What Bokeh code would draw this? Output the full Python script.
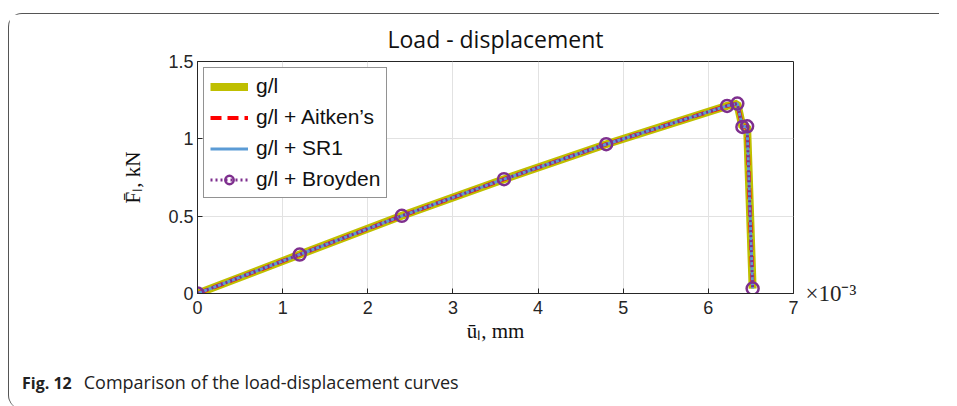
from bokeh.plotting import figure
from bokeh.models import Legend, LegendItem, FixedTicker, LinearAxis, Div
from bokeh.layouts import column
from bokeh.embed import file_html
from bokeh.resources import INLINE

# ---- data (displacement shown in units of 1e-3 mm, load in kN) ----
u_gl = [0, 1.2, 2.4, 3.6, 4.8, 6.22, 6.34, 6.40, 6.455, 6.52]
F_gl = [0, 0.252, 0.502, 0.739, 0.965, 1.213, 1.228, 1.077, 1.081, 0.032]
u_aitken = [0, 1.2, 2.4, 3.6, 4.8, 6.22, 6.34, 6.40, 6.455, 6.52]
F_aitken = [0, 0.252, 0.502, 0.739, 0.965, 1.213, 1.228, 1.077, 1.081, 0.032]
u_sr1 = [0, 1.2, 2.4, 3.6, 4.8, 6.22, 6.34, 6.40, 6.455, 6.52]
F_sr1 = [0, 0.252, 0.502, 0.739, 0.965, 1.213, 1.228, 1.077, 1.081, 0.032]
u_broyden = [0, 1.2, 2.4, 3.6, 4.8, 6.22, 6.34, 6.40, 6.455, 6.52]
F_broyden = [0, 0.252, 0.502, 0.739, 0.965, 1.213, 1.228, 1.077, 1.081, 0.032]

x_ticks = [0, 1, 2, 3, 4, 5, 6, 7]
y_ticks = [0, 0.5, 1, 1.5]
y_tick_labels = ["0", "0.5", "1", "1.5"]
x_multiplier = "\u00d710\u207b\u00b3"
series_labels = ["g/l", "g/l + Aitken\u2019s", "g/l + SR1", "g/l + Broyden"]

p = figure(width=930, height=340, output_backend="svg", toolbar_location=None,
           x_range=(0, 7), y_range=(0, 1.5),
           min_border_left=188, min_border_right=146,
           min_border_top=47, min_border_bottom=61,
           title="Load - displacement")

p.title.align = "center"
p.title.text_font = "Open Sans"
p.title.text_font_size = "23px"
p.title.text_font_style = "normal"
p.title.text_color = "#111111"
p.title.standoff = 13

p.outline_line_color = "#262626"
p.outline_line_width = 1
p.background_fill_color = "white"
p.border_fill_color = "white"

for ax in (p.xaxis[0], p.yaxis[0]):
    ax.major_label_text_font = "Liberation Sans"
    ax.major_label_text_font_size = "18px"
    ax.major_label_text_color = "#262626"
    ax.axis_line_color = "#262626"
    ax.major_tick_line_color = "#262626"
    ax.major_tick_in = 5
    ax.major_tick_out = 0
    ax.minor_tick_line_color = None
    ax.axis_label_text_font = "Liberation Serif"
    ax.axis_label_text_font_size = "21px"
    ax.axis_label_text_font_style = "normal"
    ax.axis_label_text_color = "#111111"

p.xaxis[0].ticker = FixedTicker(ticks=x_ticks)
p.yaxis[0].ticker = FixedTicker(ticks=y_ticks)
p.yaxis[0].major_label_overrides = {t: l for t, l in zip(y_ticks, y_tick_labels)}
p.xaxis[0].axis_label = "\u016b\u2097, mm"
p.yaxis[0].axis_label = "F\u0304\u2097, kN"
p.xaxis[0].major_label_standoff = 7
p.yaxis[0].major_label_standoff = 4
p.xaxis[0].axis_label_standoff = 2
p.yaxis[0].axis_label_standoff = 20

# exponent multiplier shown at the right end of the x axis
mult_axis = LinearAxis(ticker=FixedTicker(ticks=[0]),
                       major_label_overrides={0: x_multiplier},
                       axis_line_color=None, major_tick_line_color=None,
                       minor_tick_line_color=None,
                       major_label_text_font="Liberation Serif",
                       major_label_text_font_size="23px",
                       major_label_text_color="#262626",
                       major_label_standoff=6)
p.add_layout(mult_axis, "right")

p.grid.grid_line_color = "#e2e2e2"
p.grid.grid_line_width = 1

r1 = p.line(u_gl, F_gl, line_color="#bfbf00", line_width=8)
r2 = p.line(u_aitken, F_aitken, line_color="#ff0000", line_width=4, line_dash="11 6")
r3 = p.line(u_sr1, F_sr1, line_color="#5b9bd5", line_width=3)
r4 = p.line(u_broyden, F_broyden, line_color="#7e2f8e", line_width=3, line_dash="2 3")
r5 = p.scatter(u_broyden, F_broyden, marker="circle", size=12, fill_color=None,
               line_color="#7e2f8e", line_width=2.5)

legend = Legend(items=[
    LegendItem(label=series_labels[0], renderers=[r1]),
    LegendItem(label=series_labels[1], renderers=[r2]),
    LegendItem(label=series_labels[2], renderers=[r3]),
    LegendItem(label=series_labels[3], renderers=[r4, r5]),
], location="top_left")
legend.margin = 6
legend.padding = 6
legend.spacing = 7
legend.glyph_width = 38
legend.glyph_height = 21
legend.label_height = 21
legend.label_standoff = 8
legend.label_text_font = "Liberation Sans"
legend.label_text_font_size = "21px"
legend.label_text_color = "#111111"
legend.border_line_color = "#262626"
legend.border_line_width = 1
legend.background_fill_alpha = 1
p.add_layout(legend, "center")

caption = Div(
    text='<b style="font-size:16px">Fig. 12</b><span style="margin-left:12px">Comparison of the load-displacement curves</span>',
    width=700, height=45,
    styles={"font-family": "Open Sans", "font-size": "18px", "color": "#222222",
            "padding-left": "8px", "padding-top": "12px", "line-height": "22px"})

layout = column(p, caption, spacing=0)
layout.styles = {"margin-left": "8px", "margin-top": "13px",
                 "border-left": "1.5px solid #555", "border-top": "1.5px solid #555",
                 "border-top-left-radius": "14px", "border-bottom-left-radius": "14px"}

open("out.html", "w").write(file_html(layout, INLINE))
